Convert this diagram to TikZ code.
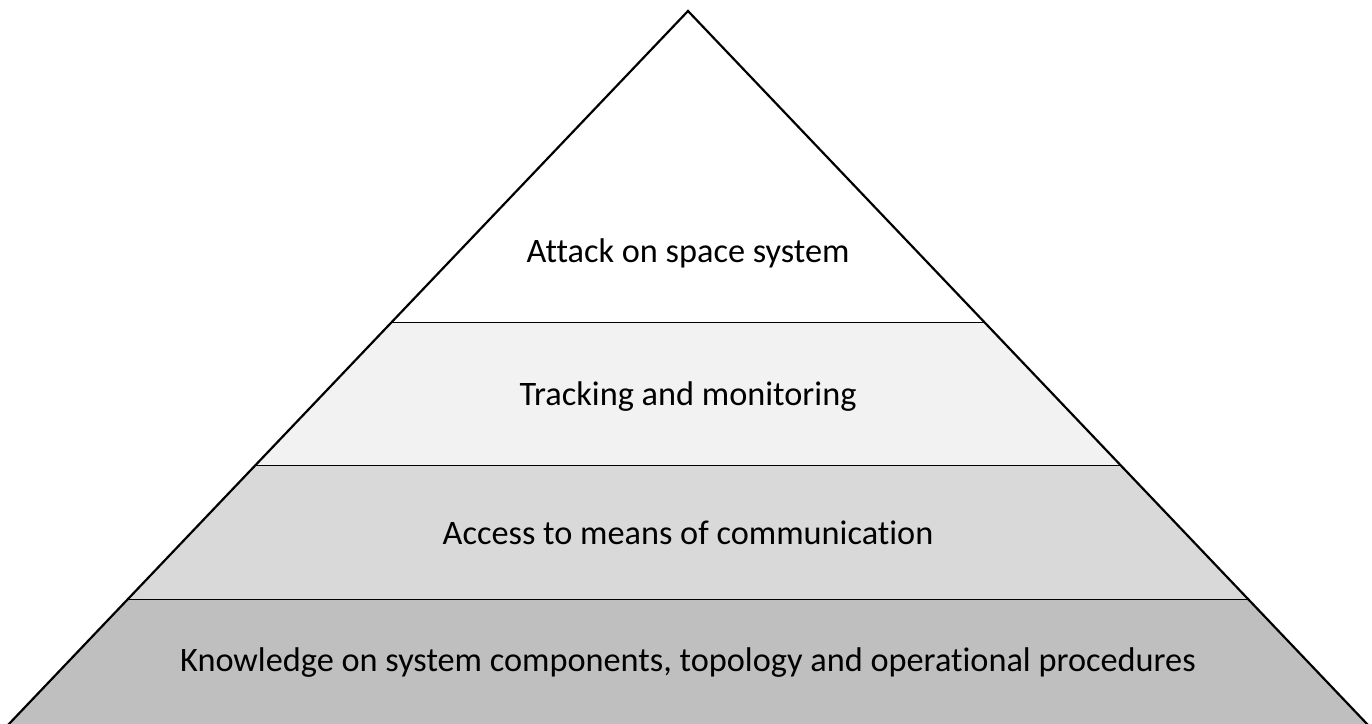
\documentclass[tikz,border=0pt]{standalone}
\usepackage{fontspec}
\setmainfont[Ligatures=NoCommon]{Carlito}
\begin{document}
\begin{tikzpicture}[x=1pt,y=-1pt,
  lbl/.style={font=\fontsize{34.3}{40}\selectfont, text=black, inner sep=0pt},
  edge/.style={draw=black, line width=2.2pt, line join=miter},
  sep/.style={draw=black, line width=1.8pt}]
\useasboundingbox (0,0) rectangle (1372,723);
\clip (0,0) rectangle (1372,723);
% apex and level coordinates
\coordinate (A) at (688,11);
\coordinate (L1) at (391.5,322.5);
\coordinate (R1) at (984.5,322.5);
\coordinate (L2) at (255.5,465.5);
\coordinate (R2) at (1120.5,465.5);
\coordinate (L3) at (127.5,599.5);
\coordinate (R3) at (1248.5,599.5);
\coordinate (L4) at (8,725);
\coordinate (R4) at (1368,725);
% bands
\fill[white] (A) -- (R1) -- (L1) -- cycle;
\fill[fill={rgb,255:red,242;green,242;blue,242}] (L1) -- (R1) -- (R2) -- (L2) -- cycle;
\fill[fill={rgb,255:red,217;green,217;blue,217}] (L2) -- (R2) -- (R3) -- (L3) -- cycle;
\fill[fill={rgb,255:red,191;green,191;blue,191}] (L3) -- (R3) -- (R4) -- (L4) -- cycle;
% separators
\draw[sep] (L1) -- (R1);
\draw[sep] (L2) -- (R2);
\draw[sep] (L3) -- (R3);
% sides
\draw[edge] (L4) -- (A) -- (R4);
% labels
\node[lbl] (t1) at (688,253) {Attack on space system};
\node[lbl] (t2) at (688,397) {Tracking and monitoring};
\node[lbl] (t3) at (688,533) {Access to means of communication};
\node[lbl] (t4) at (688,663) {Knowledge on system components, topology and operational procedures};
\end{tikzpicture}
\end{document}
